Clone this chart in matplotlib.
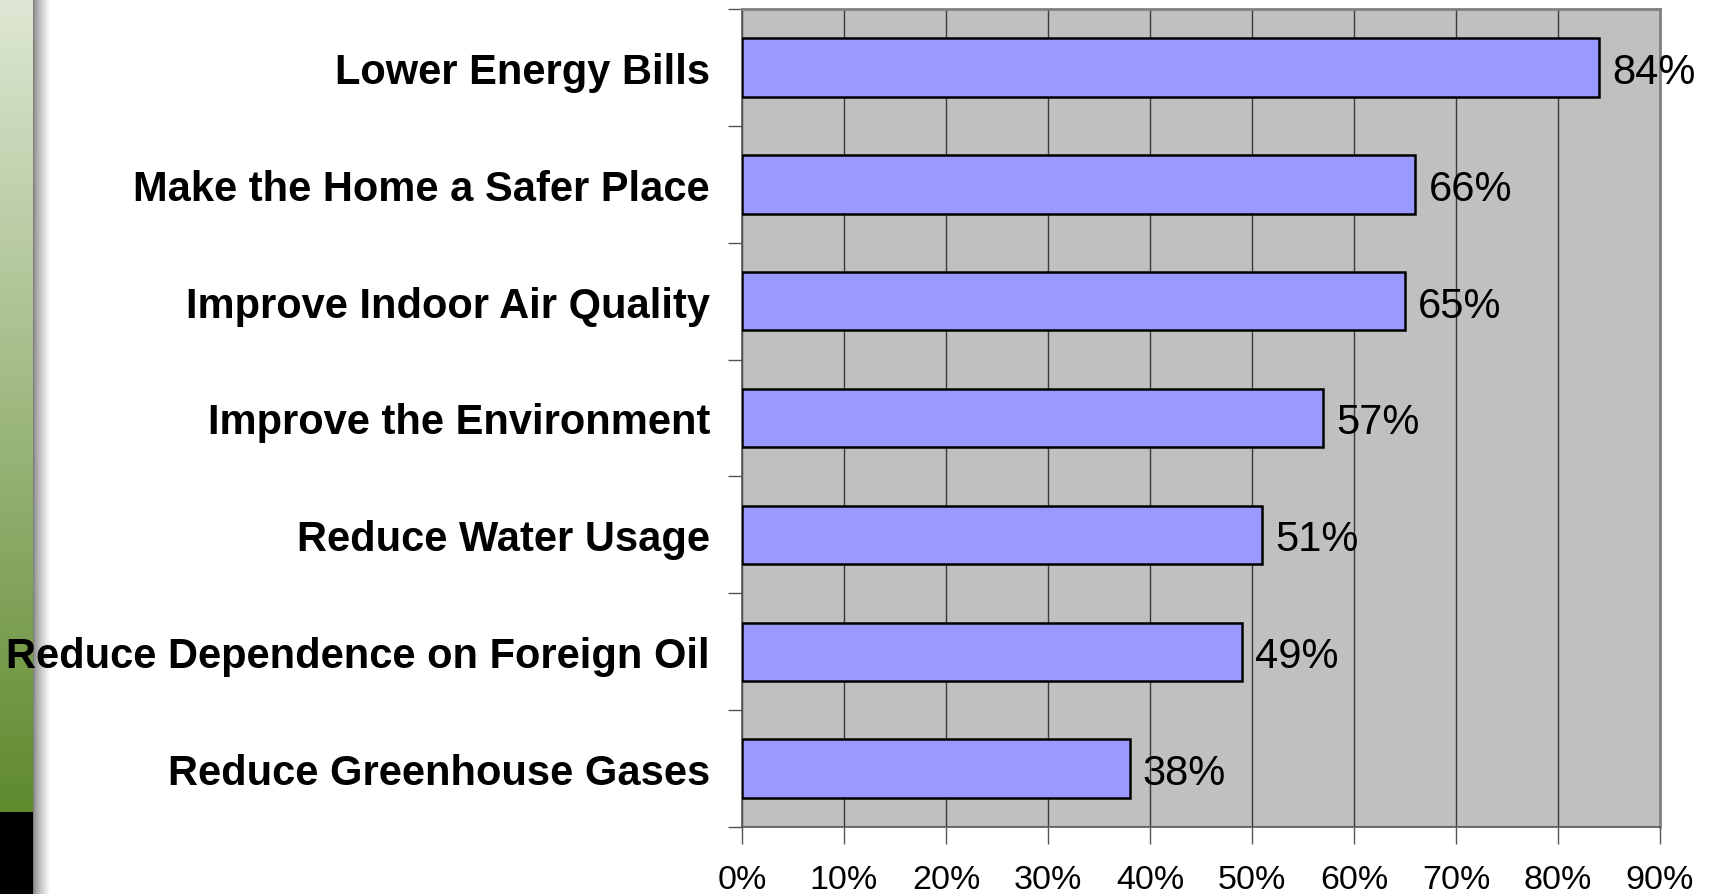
import matplotlib.pyplot as plt
import numpy as np
from matplotlib.ticker import FixedLocator, NullFormatter

# datos de la encuesta
categorias = ["Lower Energy Bills", "Make the Home a Safer Place", "Improve Indoor Air Quality",
              "Improve the Environment", "Reduce Water Usage", "Reduce Dependence on Foreign Oil",
              "Reduce Greenhouse Gases"]
valores = [84, 66, 65, 57, 51, 49, 38]
ticks_x = [0, 10, 20, 30, 40, 50, 60, 70, 80, 90]

fig = plt.figure(figsize=(17.16, 8.95), dpi=100)

# franja verde con degradado a la izquierda
ax_franja = fig.add_axes([0, 0, 50/1716, 1])
ax_franja.set_axis_off()
alto = 895
img = np.ones((alto, 50, 3))
arriba = np.array([222, 231, 212]) / 255
abajo = np.array([95, 138, 45]) / 255
corte = 813
for fila in range(alto):
    if fila < corte:
        t = fila / corte
        img[fila, :33] = arriba * (1 - t) + abajo * t
    else:
        img[fila, :33] = 0
# sombra gris
for col in range(33, 50):
    t = (col - 33) / 17
    g = 0.5 + 0.5 * t**0.7
    img[:, col] = g
ax_franja.imshow(img, aspect='auto', extent=[0, 1, 0, 1], interpolation='bilinear')
ax_franja.set_xlim(0, 1)
ax_franja.set_ylim(0, 1)

ax = fig.add_axes([742/1716, 1 - 828/895, (1660 - 742)/1716, (828 - 10)/895])
ax.set_facecolor('#c0c0c0')

y = np.arange(len(categorias))
ax.barh(y, valores, height=0.5, color='#9999ff', edgecolor='black', linewidth=1.8, zorder=3)
ax.set_xlim(0, 90)
ax.set_ylim(len(categorias) - 0.5, -0.5)

for i, v in enumerate(valores):
    ax.text(v + 1.3, i, f"{v}%", va='center_baseline', ha='left', fontsize=30,
            family='Liberation Sans', zorder=4)

ax.set_xticks(ticks_x)
ax.set_xticklabels([f"{t}%" for t in ticks_x], family='Liberation Sans', fontsize=24.5)
ax.xaxis.grid(True, color='#3a3a3a', linewidth=1.0, zorder=1)
ax.tick_params(axis='x', length=12, width=1, color='#555555', pad=15)

ax.set_yticks(y)
ax.set_yticklabels(categorias, fontsize=30, fontweight='bold', family='Liberation Sans')
ax.tick_params(axis='y', which='major', length=0, pad=23)
ax.yaxis.set_minor_locator(FixedLocator(np.arange(-0.5, len(categorias), 1)))
ax.yaxis.set_minor_formatter(NullFormatter())
ax.tick_params(axis='y', which='minor', length=10, width=1, color='#555555')

for lado in ['top', 'right']:
    ax.spines[lado].set_color('#808080')
    ax.spines[lado].set_linewidth(2)
ax.spines['left'].set_color('#555555')
ax.spines['bottom'].set_color('#555555')
ax.spines['left'].set_linewidth(1.2)
ax.spines['bottom'].set_linewidth(1.2)

fig.savefig('out.png', dpi=100)
